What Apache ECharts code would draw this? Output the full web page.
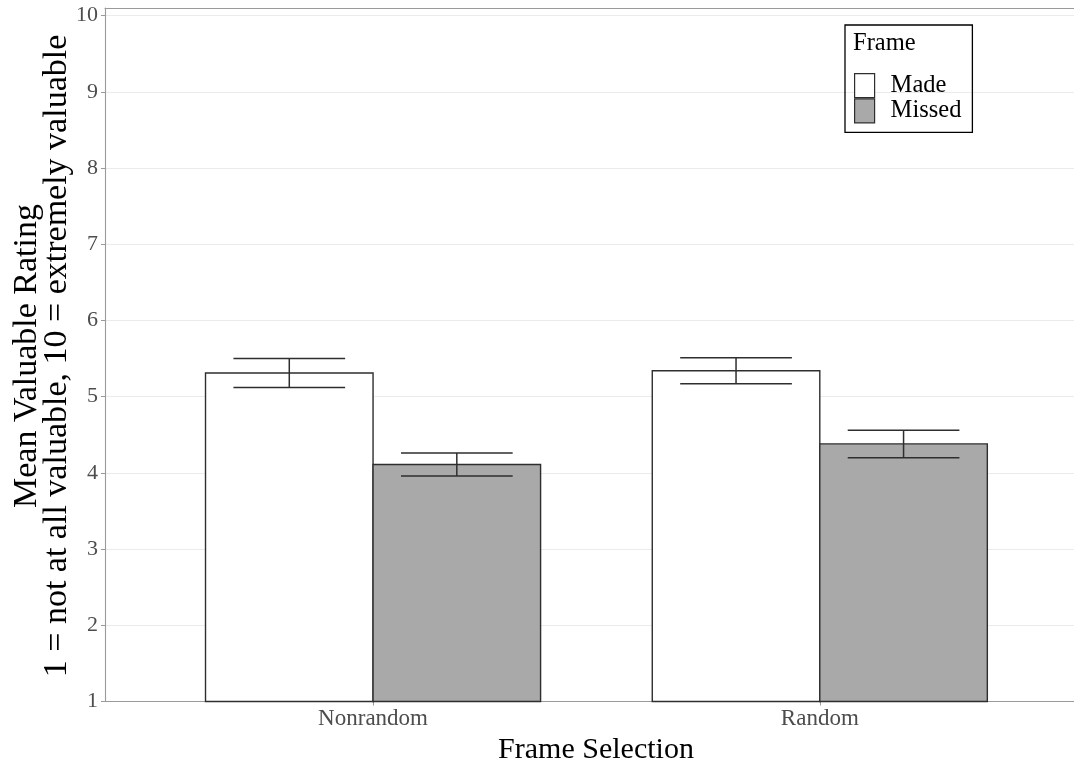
<!DOCTYPE html>
<html>
<head>
<meta charset="utf-8">
<script src="https://cdn.jsdelivr.net/npm/echarts@6/dist/echarts.min.js"></script>
<style>html,body{margin:0;padding:0;background:#fff}#c{width:1074px;height:761px}</style>
</head>
<body>
<div id="c"></div>
<script>
const categories = ['Nonrandom', 'Random'];
const seriesNames = ['Made', 'Missed'];
const madeMeans = [5.31, 5.34];
const madeSE = [0.19, 0.17];
const missedMeans = [4.11, 4.38];
const missedSE = [0.15, 0.18];
const yTicks = [1, 2, 3, 4, 5, 6, 7, 8, 9, 10];
const fills = ['#ffffff', '#a9a9a9'];
const yTitle = 'Mean Valuable Rating\n1 = not at all valuable, 10 = extremely valuable';
const xTitle = 'Frame Selection';

const FONT = "'Liberation Serif', 'DejaVu Serif', serif";
const DODGE = 0.1875, BARW = 0.375, CAPW = 0.25;
const INK = '#2e2e2e';

function rows(means, se, off) {
  return means.map((m, i) => [i + 1 + off, m, se[i]]);
}
const madeData = rows(madeMeans, madeSE, -DODGE);
const missedData = rows(missedMeans, missedSE, DODGE);

function barRender(fill) {
  return function (params, api) {
    const x = api.value(0), y = api.value(1);
    const tl = api.coord([x - BARW / 2, y]);
    const br = api.coord([x + BARW / 2, 1]);
    return {
      type: 'rect',
      shape: { x: tl[0], y: tl[1], width: br[0] - tl[0], height: br[1] - tl[1] },
      style: { fill: fill, stroke: INK, lineWidth: 1.4 }
    };
  };
}
function errRender(params, api) {
  const x = api.value(0), y = api.value(1), s = api.value(2);
  const top = api.coord([x, y + s]);
  const bot = api.coord([x, y - s]);
  const l = api.coord([x - CAPW / 2, y])[0];
  const r = api.coord([x + CAPW / 2, y])[0];
  const st = { stroke: INK, lineWidth: 1.5 };
  return {
    type: 'group',
    children: [
      { type: 'line', shape: { x1: top[0], y1: top[1], x2: bot[0], y2: bot[1] }, style: st },
      { type: 'line', shape: { x1: l, y1: top[1], x2: r, y2: top[1] }, style: st },
      { type: 'line', shape: { x1: l, y1: bot[1], x2: r, y2: bot[1] }, style: st }
    ]
  };
}

const axisGray = '#9a9a9a';
const option = {
  animation: false,
  backgroundColor: '#fff',
  title: {
    text: 'Frame', left: 853, top: 31, padding: 0,
    textStyle: { fontSize: 24.5, fontWeight: 'normal', fontFamily: FONT, color: '#000' }
  },
  legend: {
    left: 845, top: 25, orient: 'vertical',
    itemWidth: 20, itemHeight: 24, itemGap: 0,
    padding: [48, 11, 9, 9],
    borderColor: '#000', borderWidth: 1.3,
    selectedMode: false,
    textStyle: { fontSize: 24.5, fontFamily: FONT, color: '#000', padding: [0, 0, 0, 11] },
    data: seriesNames.map((n, i) => ({
      name: n, icon: 'rect',
      itemStyle: { color: fills[i], borderColor: INK, borderWidth: 1.2 }
    }))
  },
  graphic: [{
    type: 'text', x: 42, y: 356, rotation: Math.PI / 2,
    style: {
      text: yTitle, fontSize: 34, lineHeight: 30, fontFamily: FONT, fill: '#000',
      align: 'center', verticalAlign: 'middle'
    }
  }],
  grid: { left: 105, right: 0, top: 8, bottom: 59.5, outerBoundsMode: 'none', containLabel: false },
  xAxis: [{
    type: 'value', min: 0.4, max: 2.569,
    axisLine: { show: true, onZero: false, lineStyle: { color: axisGray, width: 1.1 } },
    axisTick: { show: true, customValues: [1, 2], length: 4, lineStyle: { color: axisGray } },
    axisLabel: {
      customValues: [1, 2], formatter: v => categories[Math.round(v) - 1],
      fontSize: 23, fontFamily: FONT, color: '#4d4d4d', margin: 6
    },
    splitLine: { show: false },
    name: xTitle, nameLocation: 'middle', nameGap: 28,
    nameTextStyle: { fontSize: 30, fontFamily: FONT, color: '#000', padding: [0, 0, 0, 13] }
  }, {
    type: 'value', position: 'top', min: 0.4, max: 2.569,
    axisLine: { show: true, onZero: false, lineStyle: { color: axisGray, width: 1.1 } },
    axisTick: { show: false }, axisLabel: { show: false }, splitLine: { show: false }
  }],
  yAxis: {
    type: 'value', min: 1, max: 10.1, interval: 1,
    axisLine: { show: true, lineStyle: { color: axisGray, width: 1.1 } },
    axisTick: { show: true, customValues: yTicks, length: 4, lineStyle: { color: axisGray } },
    axisLabel: {
      customValues: yTicks, fontSize: 22, fontFamily: FONT, color: '#4d4d4d', margin: 7
    },
    splitLine: { show: true, lineStyle: { color: '#ebebeb', width: 1.2 } }
  },
  series: [
    { name: 'Made', type: 'custom', renderItem: barRender(fills[0]), data: madeData,
      encode: { x: 0, y: 1 }, itemStyle: { color: fills[0], borderColor: INK }, z: 2 },
    { name: 'Missed', type: 'custom', renderItem: barRender(fills[1]), data: missedData,
      encode: { x: 0, y: 1 }, itemStyle: { color: fills[1], borderColor: INK }, z: 2 },
    { name: 'errMade', type: 'custom', renderItem: errRender, data: madeData,
      encode: { x: 0, y: 1 }, z: 3 },
    { name: 'errMissed', type: 'custom', renderItem: errRender, data: missedData,
      encode: { x: 0, y: 1 }, z: 3 }
  ]
};
echarts.init(document.getElementById('c'), null, { renderer: 'canvas' }).setOption(option);
</script>
</body>
</html>
